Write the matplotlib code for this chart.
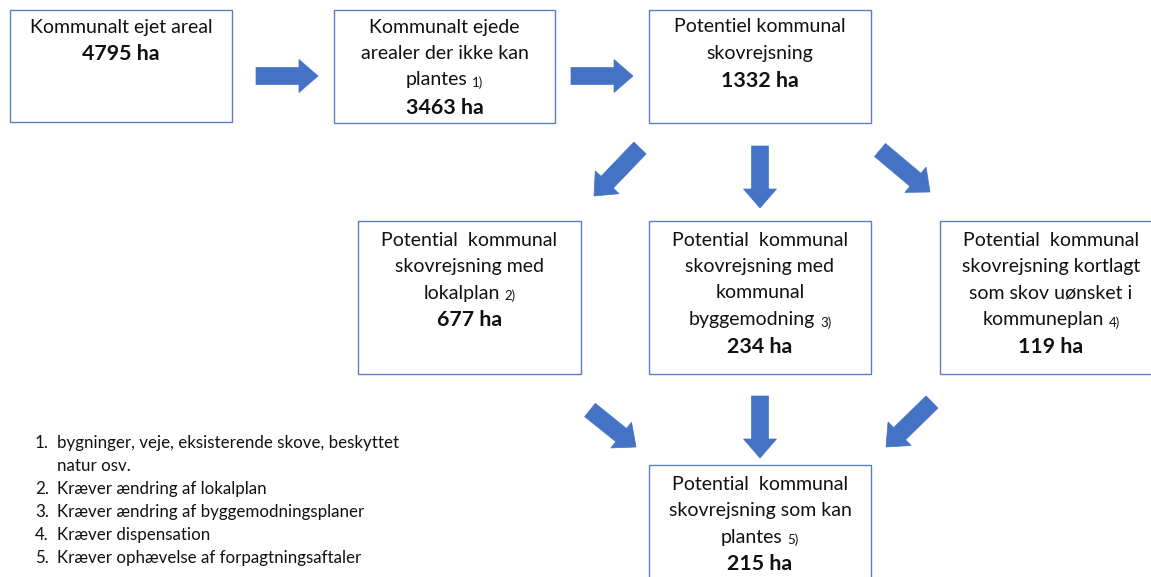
import matplotlib
matplotlib.use("Agg")
import matplotlib.pyplot as plt
from matplotlib.patches import Rectangle, FancyArrow

# ---- data ----
box_lines = [
    ["Kommunalt ejet areal"],
    ["Kommunalt ejede", "arealer der ikke kan", "plantes"],
    ["Potentiel kommunal", "skovrejsning"],
    ["Potential  kommunal", "skovrejsning med", "lokalplan"],
    ["Potential  kommunal", "skovrejsning med", "kommunal", "byggemodning"],
    ["Potential  kommunal", "skovrejsning kortlagt", "som skov uønsket i", "kommuneplan"],
    ["Potential  kommunal", "skovrejsning som kan", "plantes"],
]
box_notes = [None, "1)", None, "2)", "3)", "4)", "5)"]
box_values = ["4795 ha", "3463 ha", "1332 ha", "677 ha", "234 ha", "119 ha", "215 ha"]
footnotes = [
    "bygninger, veje, eksisterende skove, beskyttet\nnatur osv.",
    "Kræver ændring af lokalplan",
    "Kræver ændring af byggemodningsplaner",
    "Kræver dispensation",
    "Kræver ophævelse af forpagtningsaftaler",
]

# ---- layout ----
W, H = 1151, 577
fig = plt.figure(figsize=(W / 100, H / 100), dpi=100)
ax = fig.add_axes([0, 0, 1, 1])
ax.set_xlim(0, W)
ax.set_ylim(H, 0)
ax.axis("off")

FONT = "Lato"
BORDER = "#5B7EC2"
ARROW = "#4472C4"
FS = 14.0
FSB = 15.4
LS = 26.5

# boxes: (x0, y0, x1, y1, first line y)
boxes = [
    (10, 10, 232, 122, 27),
    (334, 10, 555, 123, 27),
    (649, 10, 871, 123, 27),
    (358, 221, 581, 374, 240),
    (649, 221, 871, 374, 240),
    (940, 221, 1162, 374, 240),
    (649, 465, 871, 590, 484),
]

renderer = fig.canvas.get_renderer()

def width_px(t):
    bb = t.get_window_extent(renderer=renderer)
    return bb.width

for (x0, y0, x1, y1, ty), lines, note, val in zip(boxes, box_lines, box_notes, box_values):
    ax.add_patch(Rectangle((x0, y0), x1 - x0, y1 - y0, facecolor="white",
                           edgecolor=BORDER, lw=1.0, zorder=1))
    cx = (x0 + x1) / 2
    y = ty
    for i, ln in enumerate(lines):
        last = i == len(lines) - 1
        if last and note:
            t1 = ax.text(0, y, ln, fontsize=FS, family=FONT, ha="left", va="center", color="#111111")
            t2 = ax.text(0, y + 3, note, fontsize=9.5, family=FONT, ha="left", va="center", color="#111111")
            w1 = width_px(t1); w2 = width_px(t2); gap = 5
            left = cx - (w1 + gap + w2) / 2
            t1.set_x(left)
            t2.set_x(left + w1 + gap)
        else:
            ax.text(cx, y, ln, fontsize=FS, family=FONT, ha="center", va="center", color="#111111")
        y += LS
    ax.text(cx, y + 1, val, fontsize=FSB, family=FONT, weight="bold", ha="center", va="center", color="#111111")

# arrows: (x_start, y_start, x_end, y_end)
arrows = [
    (256, 76, 318, 76),
    (571, 76, 633, 76),
    (640, 148, 594, 196),
    (760, 146, 760, 208),
    (880, 150, 930, 192),
    (590, 410, 636, 447),
    (760, 396, 760, 458),
    (932, 402, 886, 447),
]
for xs, ys, xe, ye in arrows:
    ax.add_patch(FancyArrow(xs, ys, xe - xs, ye - ys, width=17, head_width=33,
                            head_length=19, length_includes_head=True,
                            facecolor=ARROW, edgecolor=ARROW, lw=0.5, zorder=2))

# footnotes
fy = 443
for i, fn in enumerate(footnotes):
    ax.text(35, fy, f"{i + 1}.", fontsize=12.2, family=FONT, ha="left", va="center", color="#111111")
    for j, part in enumerate(fn.split("\n")):
        ax.text(57, fy, part, fontsize=12.2, family=FONT, ha="left", va="center", color="#111111")
        fy += 23

fig.savefig("out.png", dpi=100, facecolor="white")
